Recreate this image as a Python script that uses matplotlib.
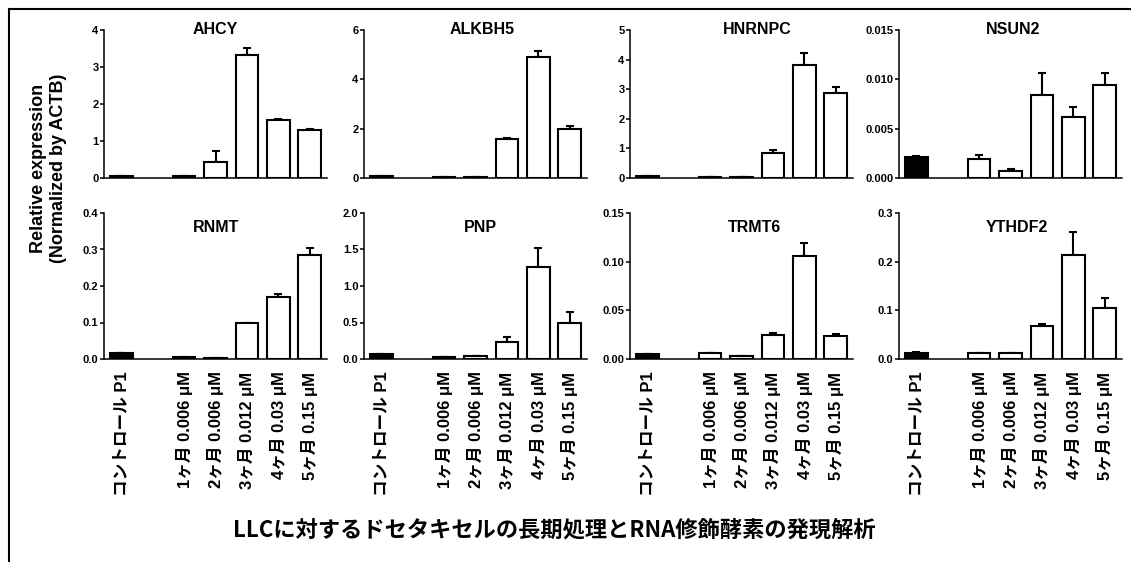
import matplotlib.pyplot as plt
from matplotlib.lines import Line2D

# ---------------------------------------------------
# Data
# ---------------------------------------------------

categories = [
    "コントロール P1",
    "1ヶ月 0.006 μM",
    "2ヶ月 0.006 μM",
    "3ヶ月 0.012 μM",
    "4ヶ月 0.03 μM",
    "5ヶ月 0.15 μM",
]
positions = [0, 2, 3, 4, 5, 6]

genes = ["AHCY", "ALKBH5", "HNRNPC", "NSUN2", "RNMT", "PNP", "TRMT6", "YTHDF2"]

ahcy_mean = [0.05, 0.05, 0.43, 3.32, 1.57, 1.30]
ahcy_err = [0.0, 0.0, 0.29, 0.20, 0.03, 0.03]

alkbh5_mean = [0.07, 0.04, 0.04, 1.60, 4.89, 1.98]
alkbh5_err = [0.0, 0.0, 0.0, 0.02, 0.27, 0.12]

hnrnpc_mean = [0.07, 0.05, 0.04, 0.86, 3.81, 2.86]
hnrnpc_err = [0.0, 0.0, 0.0, 0.08, 0.42, 0.20]

nsun2_mean = [0.00213, 0.0019, 0.00074, 0.00843, 0.00616, 0.00941]
nsun2_err = [0.0001, 0.0004, 0.0002, 0.00223, 0.00105, 0.00125]

rnmt_mean = [0.0164, 0.0055, 0.003, 0.099, 0.169, 0.285]
rnmt_err = [0.0, 0.0, 0.0, 0.0, 0.010, 0.020]

pnp_mean = [0.068, 0.023, 0.046, 0.237, 1.265, 0.493]
pnp_err = [0.0, 0.0, 0.0, 0.063, 0.255, 0.151]

trmt6_mean = [0.0048, 0.0058, 0.0027, 0.0243, 0.1058, 0.0233]
trmt6_err = [0.0, 0.0003, 0.0, 0.0024, 0.0137, 0.0024]

ythdf2_mean = [0.0116, 0.0123, 0.0123, 0.0685, 0.213, 0.1048]
ythdf2_err = [0.0021, 0.0, 0.0, 0.0041, 0.048, 0.021]

means = [ahcy_mean, alkbh5_mean, hnrnpc_mean, nsun2_mean,
         rnmt_mean, pnp_mean, trmt6_mean, ythdf2_mean]
errors = [ahcy_err, alkbh5_err, hnrnpc_err, nsun2_err,
          rnmt_err, pnp_err, trmt6_err, ythdf2_err]

y_ticks = [
    [0, 1, 2, 3, 4],
    [0, 2, 4, 6],
    [0, 1, 2, 3, 4, 5],
    [0.000, 0.005, 0.010, 0.015],
    [0.0, 0.1, 0.2, 0.3, 0.4],
    [0.0, 0.5, 1.0, 1.5, 2.0],
    [0.00, 0.05, 0.10, 0.15],
    [0.0, 0.1, 0.2, 0.3],
]
y_fmt = ["%d", "%d", "%d", "%.3f", "%.1f", "%.1f", "%.2f", "%.1f"]

# ---------------------------------------------------
# Layout (pixel based)
# ---------------------------------------------------

W, H = 1131, 562
fig = plt.figure(figsize=(W / 100, H / 100), dpi=100)

latin_jp = ["Liberation Sans", "Noto Sans CJK JP"]

col_left = [104, 364, 630, 899]
ax_w = 223
row_top = [30, 213]
row_bottom = [178, 359]
title_x = [0.5, 0.53, 0.57, 0.51, 0.5, 0.52, 0.56, 0.53]
title_dy = [-1, 15]

for i, gene in enumerate(genes):
    row = i // 4
    col = i % 4
    left = col_left[col] / W
    bottom = 1 - row_bottom[row] / H
    height = (row_bottom[row] - row_top[row]) / H
    ax = fig.add_axes([left, bottom, ax_w / W, height])

    colors = ["black"] + ["white"] * 5
    ax.bar(positions, means[i], width=0.72, color=colors,
           edgecolor="black", linewidth=1.5, zorder=2)
    ax.errorbar(positions, means[i], yerr=[[0] * 6, errors[i]],
                fmt="none", ecolor="black", elinewidth=1.5,
                capsize=3, capthick=1.5, zorder=1)

    ax.set_xlim(-0.55, 6.55)
    ax.set_ylim(y_ticks[i][0], y_ticks[i][-1])
    ax.set_yticks(y_ticks[i])
    ax.set_yticklabels([y_fmt[i] % t for t in y_ticks[i]],
                       fontsize=8, fontweight="bold", family=latin_jp)

    ax.spines["top"].set_visible(False)
    ax.spines["right"].set_visible(False)
    ax.spines["left"].set_linewidth(1.1)
    ax.spines["bottom"].set_linewidth(1.1)
    ax.tick_params(axis="y", length=3, width=1.1, pad=1)

    if row == 1:
        ax.set_xticks(positions)
        ax.set_xticklabels(categories, rotation=90, fontsize=12,
                           fontweight="bold", family=latin_jp)
        ax.tick_params(axis="x", length=0, pad=9)
    else:
        ax.set_xticks([])

    ax.text(title_x[i], 1 - title_dy[row] / (row_bottom[row] - row_top[row]) / 1.0,
            gene, transform=ax.transAxes, ha="center", va="center",
            fontsize=11.5, fontweight="bold", family=latin_jp)

# ---------------------------------------------------
# Labels and frame
# ---------------------------------------------------

fig.text(0.043, 1 - 168 / H, "Relative expression\n(Normalized by ACTB)",
         rotation=90, ha="center", va="center", fontsize=13,
         fontweight="bold", family=latin_jp, linespacing=1.2)

fig.text(0.49, 1 - 530 / H,
         "LLCに対するドセタキセルの長期処理とRNA修飾酵素の発現解析",
         ha="center", va="center", fontsize=16, fontweight="bold",
         family=["Noto Sans CJK JP"])

fig.add_artist(Line2D([9 / W, 9 / W], [0, 1 - 9 / H],
                      transform=fig.transFigure, color="black", linewidth=1.5))
fig.add_artist(Line2D([9 / W, 1], [1 - 9 / H, 1 - 9 / H],
                      transform=fig.transFigure, color="black", linewidth=1.5))

fig.savefig("out.png", dpi=100)
